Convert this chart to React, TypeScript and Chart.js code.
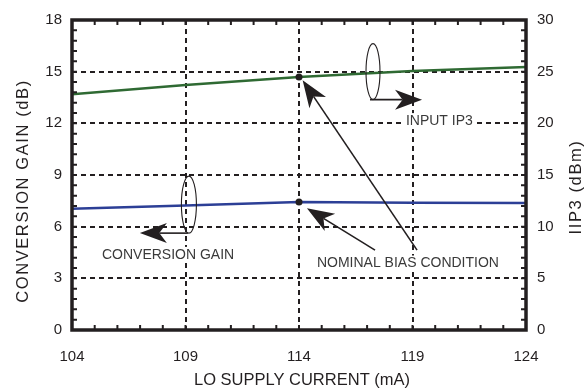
import React, { useEffect, useRef } from 'react';
import { Chart, registerables } from 'chart.js';

Chart.register(...registerables);

// ---- data ----
const LO_CURRENT_MA = [104, 109, 114, 119, 124];
const CONVERSION_GAIN_DB = [7.04, 7.23, 7.43, 7.39, 7.37];
const INPUT_IP3_DBM = [22.82, 23.72, 24.49, 25.07, 25.46];
const NOMINAL_CURRENT_MA = 114;

const X_TICKS = [104, 109, 114, 119, 124];
const GAIN_TICKS = [0, 3, 6, 9, 12, 15, 18];
const IP3_TICKS = [0, 5, 10, 15, 20, 25, 30];

const X_TITLE = 'LO SUPPLY CURRENT (mA)';
const Y_TITLE = 'CONVERSION GAIN (dB)';
const Y1_TITLE = 'IIP3 (dBm)';
const LABEL_IP3 = 'INPUT IP3';
const LABEL_GAIN = 'CONVERSION GAIN';
const LABEL_NOMINAL = 'NOMINAL BIAS CONDITION';

const INK = '#231f20';
const TEXT = '#3a3a3a';
const FONT = '"Liberation Sans", Arial, sans-serif';

function drawArrow(ctx: CanvasRenderingContext2D, x1: number, y1: number, x2: number, y2: number) {
  const len = 27, hw = 10, notch = 0.72;
  const a = Math.atan2(y2 - y1, x2 - x1);
  const ux = Math.cos(a), uy = Math.sin(a);
  const nx = -uy, ny = ux;
  const bx = x2 - ux * len, by = y2 - uy * len;
  const mx = x2 - ux * len * notch, my = y2 - uy * len * notch;
  ctx.save();
  ctx.strokeStyle = INK;
  ctx.fillStyle = INK;
  ctx.lineWidth = 1.6;
  ctx.beginPath();
  ctx.moveTo(x1, y1);
  ctx.lineTo(mx, my);
  ctx.stroke();
  ctx.beginPath();
  ctx.moveTo(x2, y2);
  ctx.lineTo(bx + nx * hw, by + ny * hw);
  ctx.lineTo(mx, my);
  ctx.lineTo(bx - nx * hw, by - ny * hw);
  ctx.closePath();
  ctx.fill();
  ctx.restore();
}

function drawEllipse(ctx: CanvasRenderingContext2D, cx: number, cy: number, rx: number, ry: number) {
  ctx.save();
  ctx.strokeStyle = INK;
  ctx.lineWidth = 1.1;
  ctx.beginPath();
  ctx.ellipse(cx, cy, rx, ry, 0, 0, Math.PI * 2);
  ctx.stroke();
  ctx.restore();
}

function drawLabel(ctx: CanvasRenderingContext2D, text: string, x: number, y: number) {
  ctx.save();
  ctx.font = `14px ${FONT}`;
  const w = ctx.measureText(text).width;
  ctx.fillStyle = '#ffffff';
  ctx.fillRect(x - 2, y - 8, w + 4, 16);
  ctx.fillStyle = TEXT;
  ctx.textBaseline = 'middle';
  ctx.textAlign = 'left';
  ctx.fillText(text, x, y);
  ctx.restore();
}

const decorPlugin = {
  id: 'decor',
  afterDraw(chart: any) {
    const ctx: CanvasRenderingContext2D = chart.ctx;
    const { left, right, top, bottom } = chart.chartArea;
    const xs = chart.scales.x;
    const ys = chart.scales.y;
    const y1s = chart.scales.y1;
    const X = (v: number) => xs.getPixelForValue(v);
    const Y = (v: number) => ys.getPixelForValue(v);

    // minor ticks (inside)
    ctx.save();
    ctx.strokeStyle = INK;
    ctx.lineWidth = 2;
    ctx.beginPath();
    for (let v = X_TICKS[0] + 1; v < X_TICKS[X_TICKS.length - 1]; v++) {
      const px = X(v);
      ctx.moveTo(px, bottom); ctx.lineTo(px, bottom - 5);
      ctx.moveTo(px, top); ctx.lineTo(px, top + 5);
    }
    for (let v = IP3_TICKS[0] + 1; v < IP3_TICKS[IP3_TICKS.length - 1]; v++) {
      const py = y1s.getPixelForValue(v);
      ctx.moveTo(left, py); ctx.lineTo(left + 5, py);
      ctx.moveTo(right, py); ctx.lineTo(right - 5, py);
    }
    ctx.stroke();
    // frame
    ctx.lineWidth = 3.5;
    ctx.strokeRect(left, top, right - left, bottom - top);
    ctx.restore();

    // IP3 bracket + arrow
    const e1x = X(117.26), e1y = Y(15.0);
    drawEllipse(ctx, e1x, e1y, 7, 28);
    drawArrow(ctx, e1x - 3, e1y + 28, X(119.42), e1y + 28);
    drawLabel(ctx, LABEL_IP3, X(118.71), Y(12.13));

    // gain bracket + arrow
    const e2x = X(109.15), e2y = Y(7.28);
    drawEllipse(ctx, e2x, e2y, 7.5, 28.5);
    drawArrow(ctx, e2x - 1, e2y + 28.5, X(106.99), e2y + 28.5);
    drawLabel(ctx, LABEL_GAIN, X(105.32), Y(4.36));

    // nominal arrows
    drawArrow(ctx, X(119.2), Y(4.64), X(114.16), Y(14.5));
    drawArrow(ctx, X(117.35), Y(4.64), X(114.35), Y(7.07));
    drawLabel(ctx, LABEL_NOMINAL, X(114.79), Y(3.86));

    // axis titles
    ctx.save();
    ctx.fillStyle = INK;
    ctx.font = `16.5px ${FONT}`;
    ctx.textAlign = 'center';
    ctx.textBaseline = 'middle';
    ctx.fillText(X_TITLE, (left + right) / 2 + 3, 380);
    (ctx as any).letterSpacing = '1.6px';
    ctx.save();
    ctx.translate(23, 191);
    ctx.rotate(-Math.PI / 2);
    ctx.fillText(Y_TITLE, 0, 0);
    ctx.restore();
    ctx.save();
    ctx.translate(576, 187);
    ctx.rotate(-Math.PI / 2);
    ctx.fillText(Y1_TITLE, 0, 0);
    ctx.restore();
    ctx.restore();
  },
};

export default function App() {
  const ref = useRef<HTMLCanvasElement | null>(null);
  useEffect(() => {
    if (!ref.current) return;
    const pointR = (c: any) => (LO_CURRENT_MA[c.dataIndex] === NOMINAL_CURRENT_MA ? 3.5 : 0);
    const tickFont = { family: FONT, size: 15 };
    const chart = new Chart(ref.current, {
      type: 'line',
      data: {
        datasets: [
          {
            label: 'INPUT IP3',
            data: LO_CURRENT_MA.map((x, i) => ({ x, y: INPUT_IP3_DBM[i] })),
            yAxisID: 'y1',
            borderColor: '#2f6a33',
            borderWidth: 2.5,
            pointRadius: pointR,
            pointBackgroundColor: INK,
            pointBorderWidth: 0,
            tension: 0,
          },
          {
            label: 'CONVERSION GAIN',
            data: LO_CURRENT_MA.map((x, i) => ({ x, y: CONVERSION_GAIN_DB[i] })),
            yAxisID: 'y',
            borderColor: '#2c3f96',
            borderWidth: 2.5,
            pointRadius: pointR,
            pointBackgroundColor: INK,
            pointBorderWidth: 0,
            tension: 0,
          },
        ],
      },
      options: {
        animation: false,
        responsive: false,
        layout: { padding: { top: 19, left: 0, right: 0, bottom: 0 } },
        plugins: { legend: { display: false }, tooltip: { enabled: false } },
        scales: {
          x: {
            type: 'linear',
            position: 'bottom',
            min: X_TICKS[0],
            max: X_TICKS[X_TICKS.length - 1],
            ticks: { stepSize: X_TICKS[1] - X_TICKS[0], color: INK, font: tickFont, padding: 18, maxRotation: 0 },
            grid: { color: INK, lineWidth: 2, drawTicks: false },
            border: { display: false, dash: [5, 4] },
            afterFit: (s: any) => { s.height = 59; },
          },
          y: {
            type: 'linear',
            position: 'left',
            min: GAIN_TICKS[0],
            max: GAIN_TICKS[GAIN_TICKS.length - 1],
            ticks: { stepSize: GAIN_TICKS[1] - GAIN_TICKS[0], color: INK, font: tickFont, padding: 10 },
            grid: { color: INK, lineWidth: 2, drawTicks: false },
            border: { display: false, dash: [5, 4] },
            afterFit: (s: any) => { s.width = 72; },
          },
          y1: {
            type: 'linear',
            position: 'right',
            min: IP3_TICKS[0],
            max: IP3_TICKS[IP3_TICKS.length - 1],
            ticks: { stepSize: IP3_TICKS[1] - IP3_TICKS[0], color: INK, font: tickFont, padding: 11 },
            grid: { drawOnChartArea: false, drawTicks: false },
            border: { display: false },
            afterFit: (s: any) => { s.width = 61; },
          },
        },
      },
      plugins: [decorPlugin],
    } as any);
    return () => chart.destroy();
  }, []);
  return (
    <div style={{ position: 'fixed', left: 0, top: 0, width: 587, height: 389, background: '#fff' }}>
      <canvas ref={ref} width={587} height={389} style={{ display: 'block' }} />
    </div>
  );
}
